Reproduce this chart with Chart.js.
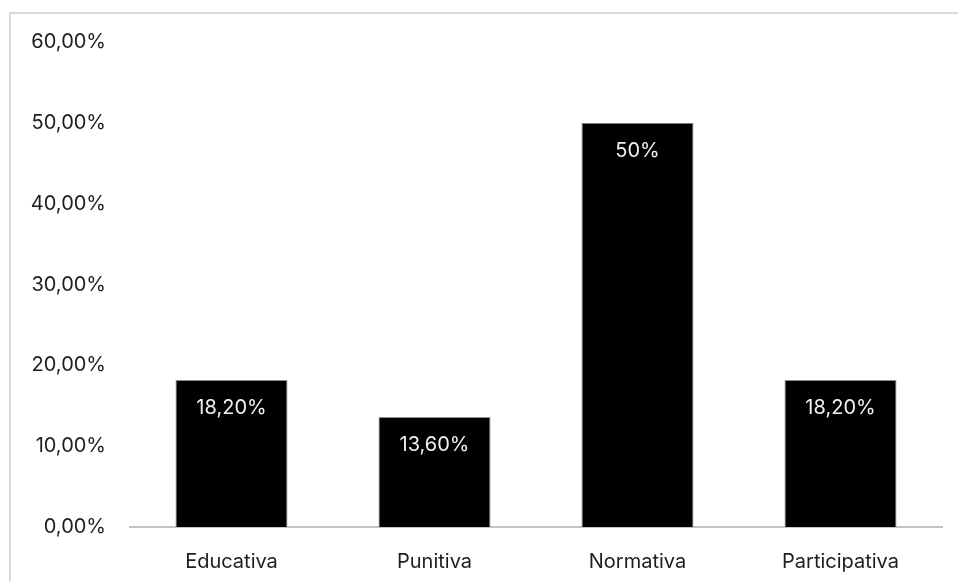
<!DOCTYPE html>
<html lang="pt">
<head>
<meta charset="utf-8">
<title>Abordagens</title>
<script src="https://cdn.jsdelivr.net/npm/chart.js@4/dist/chart.umd.min.js"></script>
<style>
  html, body { margin: 0; padding: 0; background: #fff; overflow: hidden; }
  .frame {
    position: absolute; left: 9px; top: 12px; right: -10px; bottom: -10px;
    border-top: 2px solid #d9d9d9; border-left: 2px solid #d9d9d9;
  }
  #grafico { position: absolute; left: 0; top: 0; }
</style>
</head>
<body>
<div class="frame"></div>
<canvas id="grafico" width="958" height="581"></canvas>
<script>
// categorias e percentuais
const categorias = ['Educativa', 'Punitiva', 'Normativa', 'Participativa'];
const percentuais = [18.2, 13.6, 50, 18.2];
const ticksY = [0, 10, 20, 30, 40, 50, 60];

const FONTE = 'Inter, "Liberation Sans", Arial, sans-serif';

function fmtEixo(v) {
  return v.toFixed(2).replace('.', ',') + '%';
}
function fmtRotulo(v) {
  return Number.isInteger(v) ? v + '%' : v.toFixed(2).replace('.', ',') + '%';
}

// rótulo branco dentro do topo de cada barra
const rotulosBarras = {
  id: 'rotulosBarras',
  afterDatasetsDraw(chart) {
    const ctx = chart.ctx;
    const meta = chart.getDatasetMeta(0);
    ctx.save();
    ctx.fillStyle = '#f0f0f0';
    ctx.font = '20px ' + FONTE;
    ctx.textAlign = 'center';
    ctx.textBaseline = 'middle';
    meta.data.forEach((bar, i) => {
      ctx.fillText(fmtRotulo(percentuais[i]), bar.x, bar.y + 28);
    });
    ctx.restore();
  }
};

new Chart(document.getElementById('grafico'), {
  type: 'bar',
  data: {
    labels: categorias,
    datasets: [{
      data: percentuais,
      backgroundColor: '#000000',
      borderColor: '#8c8c8c',
      borderWidth: 1,
      barPercentage: 0.552,
      categoryPercentage: 1
    }]
  },
  options: {
    responsive: false,
    animation: false,
    layout: { padding: { top: 42, right: 16, bottom: 0, left: 0 } },
    plugins: { legend: { display: false }, tooltip: { enabled: false } },
    scales: {
      x: {
        grid: { display: false },
        border: { display: true, color: '#c4c4c4', width: 2 },
        ticks: { color: '#1e1e1e', font: { family: FONTE, size: 20 }, padding: 15 },
        afterFit(scale) { scale.height = 54; }
      },
      y: {
        min: 0,
        max: 60,
        grid: { display: false },
        border: { display: false },
        afterBuildTicks(scale) { scale.ticks = ticksY.map(v => ({ value: v })); },
        ticks: {
          color: '#1e1e1e',
          font: { family: FONTE, size: 20 },
          padding: 16,
          callback: v => fmtEixo(v)
        },
        afterFit(scale) { scale.width = 130; }
      }
    }
  },
  plugins: [rotulosBarras]
});
</script>
</body>
</html>
